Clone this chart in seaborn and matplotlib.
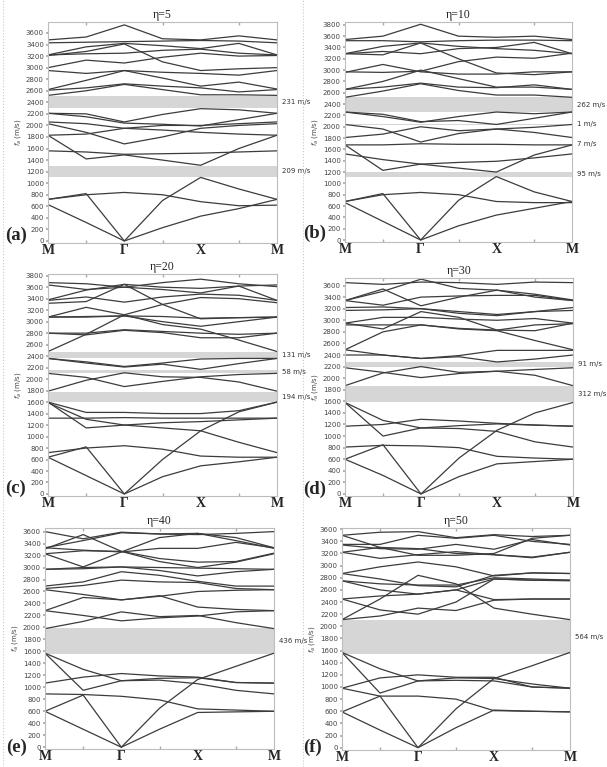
import numpy as np
import pandas as pd
import seaborn as sns
import matplotlib
matplotlib.use('Agg')
import matplotlib.pyplot as plt
import matplotlib.transforms as mtransforms

# high-symmetry path, sampled at M, mid, Gamma, mid, X, mid, M
k = [0, 0.5, 1, 1.5, 2, 2.5, 3]
k_labels = ['M', 'Γ', 'X', 'M']

etas = ['η=5', 'η=10', 'η=20', 'η=30', 'η=40', 'η=50']
letters = ['(a)', '(b)', '(c)', '(d)', '(e)', '(f)']

bands_a = [
    [630, 320, 0, 230, 430, 560, 720],
    [720, 820, 0, 700, 1100, 900, 720],
    [720, 800, 840, 800, 680, 610, 620],
    [1560, 1540, 1500, 1510, 1520, 1540, 1560],
    [1830, 1420, 1490, 1400, 1310, 1600, 1830],
    [1830, 1850, 1950, 1920, 1880, 1850, 1830],
    [2030, 1880, 1680, 1800, 1950, 2000, 2030],
    [2060, 2030, 1950, 2000, 2000, 2030, 2060],
    [2210, 2150, 2040, 2020, 1990, 2100, 2210],
    [2210, 2200, 2060, 2190, 2290, 2270, 2210],
    [2520, 2600, 2710, 2620, 2530, 2530, 2520],
    [2610, 2650, 2720, 2680, 2650, 2580, 2620],
    [2620, 2780, 2950, 2820, 2680, 2750, 2630],
    [2950, 2900, 2950, 2920, 2900, 2870, 2950],
    [3000, 3130, 3080, 3180, 3250, 3200, 3210],
    [3210, 3280, 3410, 3100, 2950, 2980, 3000],
    [3220, 3240, 3250, 3300, 3320, 3250, 3220],
    [3220, 3360, 3420, 3380, 3330, 3420, 3220],
    [3430, 3440, 3450, 3460, 3470, 3460, 3430],
    [3480, 3530, 3740, 3500, 3480, 3550, 3480],
]
bands_b = [
    [660, 330, 0, 250, 440, 560, 680],
    [680, 820, 0, 700, 1120, 850, 680],
    [680, 800, 840, 800, 680, 660, 660],
    [1520, 1420, 1340, 1370, 1390, 1450, 1520],
    [1680, 1230, 1340, 1270, 1200, 1500, 1680],
    [1680, 1680, 1700, 1690, 1690, 1680, 1680],
    [1810, 1870, 2000, 1930, 1960, 1900, 1810],
    [2040, 1960, 1730, 1880, 1960, 1990, 2040],
    [2260, 2180, 2080, 2180, 2260, 2230, 2260],
    [2260, 2220, 2090, 2110, 2040, 2150, 2260],
    [2520, 2630, 2760, 2640, 2560, 2560, 2520],
    [2660, 2700, 2770, 2700, 2690, 2740, 2660],
    [2660, 2800, 3000, 2850, 2700, 2700, 2660],
    [2970, 2960, 2980, 3150, 3230, 3210, 3300],
    [2960, 3100, 2970, 2930, 2930, 2970, 2970],
    [3290, 3420, 3480, 3200, 2950, 2920, 2970],
    [3290, 3330, 3290, 3380, 3400, 3490, 3290],
    [3290, 3270, 3480, 3420, 3380, 3350, 3290],
    [3520, 3520, 3500, 3520, 3530, 3530, 3520],
    [3540, 3600, 3810, 3600, 3580, 3600, 3540],
]
bands_c = [
    [640, 320, 0, 300, 490, 560, 640],
    [640, 820, 0, 600, 1100, 1430, 1600],
    [720, 800, 840, 780, 660, 640, 640],
    [1600, 1150, 1200, 1150, 1100, 900, 720],
    [1600, 1420, 1420, 1400, 1400, 1450, 1600],
    [1320, 1320, 1330, 1320, 1320, 1320, 1320],
    [1590, 1300, 1200, 1240, 1260, 1290, 1320],
    [1790, 1980, 2110, 2040, 2030, 1950, 1790],
    [2100, 2030, 1870, 1960, 2040, 2080, 2100],
    [2360, 2300, 2220, 2280, 2350, 2360, 2360],
    [2360, 2280, 2210, 2260, 2170, 2270, 2360],
    [2480, 2780, 3120, 3300, 3420, 3400, 3330],
    [2800, 2770, 2850, 2810, 2720, 2720, 2800],
    [2800, 2800, 2860, 2830, 2800, 2780, 2800],
    [3080, 3250, 3120, 2950, 2870, 2680, 2480],
    [3080, 3090, 3100, 3000, 2920, 3000, 3080],
    [3080, 3080, 3100, 3090, 3060, 3070, 3080],
    [3370, 3430, 3340, 3430, 3480, 3460, 3370],
    [3320, 3350, 3650, 3300, 3050, 3070, 3080],
    [3380, 3550, 3650, 3600, 3580, 3620, 3370],
    [3640, 3560, 3600, 3560, 3500, 3620, 3640],
    [3680, 3660, 3600, 3680, 3740, 3660, 3610],
]
bands_d = [
    [600, 320, 0, 300, 520, 560, 600],
    [600, 850, 0, 620, 1100, 1400, 1580],
    [810, 840, 830, 800, 650, 620, 600],
    [1580, 1000, 1140, 1130, 1080, 900, 810],
    [1580, 1270, 1140, 1180, 1210, 1190, 1170],
    [1170, 1200, 1290, 1260, 1220, 1190, 1170],
    [1870, 2090, 2200, 2100, 2120, 2050, 1870],
    [2180, 2100, 2010, 2080, 2120, 2150, 2180],
    [2400, 2400, 2340, 2390, 2480, 2480, 2480],
    [2490, 2400, 2340, 2370, 2280, 2330, 2400],
    [2490, 2800, 2920, 2850, 2820, 2650, 2490],
    [2920, 2920, 2920, 2860, 2830, 2920, 2940],
    [2950, 2850, 3150, 3050, 2830, 2820, 2950],
    [2950, 3050, 3050, 3020, 3000, 3030, 2950],
    [3170, 3180, 3200, 3150, 3100, 3150, 3170],
    [3220, 3230, 3200, 3120, 3080, 3150, 3220],
    [3340, 3540, 3250, 3400, 3520, 3400, 3340],
    [3340, 3260, 3400, 3420, 3430, 3430, 3340],
    [3340, 3500, 3710, 3550, 3520, 3450, 3350],
    [3650, 3620, 3660, 3650, 3620, 3660, 3650],
]
bands_e = [
    [600, 300, 0, 300, 580, 590, 600],
    [600, 870, 0, 650, 1130, 1350, 1570],
    [890, 880, 850, 790, 640, 620, 600],
    [1570, 950, 1110, 1120, 1060, 950, 890],
    [1570, 1300, 1110, 1150, 1160, 1080, 1070],
    [1070, 1170, 1230, 1190, 1170, 1080, 1070],
    [1980, 2100, 2260, 2180, 2200, 2080, 1980],
    [2280, 2200, 2110, 2160, 2190, 2260, 2280],
    [2280, 2500, 2460, 2530, 2340, 2300, 2280],
    [2630, 2550, 2460, 2520, 2600, 2620, 2630],
    [2650, 2700, 2790, 2760, 2750, 2650, 2630],
    [2690, 2760, 2930, 2870, 2770, 2690, 2690],
    [2970, 2980, 3010, 2950, 2860, 2930, 2970],
    [2970, 3000, 3010, 3000, 2990, 2980, 2970],
    [3230, 3010, 3260, 3500, 3570, 3450, 3320],
    [3230, 3280, 3270, 3150, 3090, 3100, 3240],
    [3310, 3550, 3270, 3100, 3000, 3090, 3230],
    [3330, 3290, 3260, 3320, 3320, 3420, 3330],
    [3330, 3450, 3580, 3560, 3570, 3500, 3330],
    [3600, 3480, 3590, 3560, 3550, 3570, 3600],
]
bands_f = [
    [590, 290, 0, 330, 620, 600, 590],
    [590, 850, 0, 640, 1140, 1350, 1570],
    [980, 850, 850, 800, 610, 600, 590],
    [1570, 900, 1100, 1110, 1100, 1000, 980],
    [1570, 1300, 1100, 1150, 1140, 1050, 980],
    [980, 1150, 1200, 1160, 1160, 1000, 980],
    [2110, 2450, 2840, 2700, 2300, 2200, 2110],
    [2110, 2170, 2300, 2260, 2430, 2450, 2450],
    [2450, 2270, 2200, 2400, 2780, 2760, 2760],
    [2450, 2500, 2530, 2600, 2440, 2450, 2450],
    [2750, 2600, 2530, 2600, 2780, 2760, 2750],
    [2750, 2700, 2680, 2680, 2800, 2780, 2760],
    [2870, 2980, 3060, 2980, 2830, 2880, 2870],
    [2870, 2780, 2670, 2650, 2840, 2880, 2870],
    [3220, 3120, 3180, 3230, 3180, 3130, 3220],
    [3220, 3300, 3280, 3200, 3180, 3140, 3220],
    [3340, 3280, 3270, 3350, 3270, 3430, 3340],
    [3350, 3350, 3500, 3450, 3500, 3400, 3350],
    [3500, 3300, 3170, 3170, 3200, 3450, 3500],
    [3500, 3550, 3560, 3460, 3510, 3480, 3500],
]

# band gaps: (lower edge, upper edge, label)
gaps_a = [(2300, 2505, '231 m/s'), (1115, 1290, '209 m/s')]
gaps_b = [(2260, 2520, '262 m/s'), (2035, 2045, '1 m/s'), (1688, 1698, '7 m/s'), (1110, 1205, '95 m/s')]
gaps_c = [(2370, 2475, '131 m/s'), (2110, 2150, '58 m/s'), (1600, 1775, '194 m/s')]
gaps_d = [(2195, 2285, '91 m/s'), (1590, 1870, '312 m/s')]
gaps_e = [(1560, 1985, '436 m/s')]
gaps_f = [(1550, 2110, '564 m/s')]

all_bands = [bands_a, bands_b, bands_c, bands_d, bands_e, bands_f]
all_gaps = [gaps_a, gaps_b, gaps_c, gaps_d, gaps_e, gaps_f]
y_max_tick = [3600, 3800, 3800, 3600, 3600, 3600]

sns.set_theme(style='white')
plt.rcParams['font.family'] = ['DejaVu Sans']
serif = ['Liberation Serif', 'DejaVu Serif']

W, H = 607, 767
fig = plt.figure(figsize=(W / 100, H / 100), dpi=100)

# axes boxes in pixels: left, right, top, bottom, ylim top
boxes = [
    (48, 277, 22, 242.7, 3790),
    (345, 572, 22, 241.7, 3850),
    (48, 277, 274, 495.7, 3830),
    (345, 573, 278, 495.7, 3730),
    (45, 274, 528, 749, 3660),
    (342, 570, 528, 749.5, 3620),
]
letter_pos = [(5, 240), (303, 238), (5, 493), (303, 494), (6, 752), (303, 752)]

for x in (3, 303):
    fig.add_artist(plt.Line2D([x / W, x / W], [0, 1], color='#c8c8c8', lw=0.8, ls=':'))

for i in range(6):
    l, r, t, b, ytop = boxes[i]
    ax = fig.add_axes([l / W, 1 - b / H, (r - l) / W, (b - t) / H])
    rows = [(k[j], f, n) for n, band in enumerate(all_bands[i]) for j, f in enumerate(band)]
    df = pd.DataFrame(rows, columns=['k', 'f', 'band'])

    tr = mtransforms.blended_transform_factory(ax.transAxes, ax.transData)
    for lo, hi, lab in all_gaps[i]:
        ax.axhspan(lo, hi, color='#d6d6d6', lw=0, zorder=0)
        ax.text(1.02, (lo + hi) / 2, lab, transform=tr, fontsize=5, color='#333333',
                va='center', ha='left')

    sns.lineplot(data=df, x='k', y='f', units='band', estimator=None, color='#3c3c3c',
                 lw=0.9, ax=ax, legend=False)

    ax.set_xlim(0, 3)
    ax.set_ylim(-30, ytop)
    ax.set_xticks([0, 1, 2, 3])
    ax.set_xticklabels(k_labels, fontfamily=serif, fontweight='bold', fontsize=10)
    ax.set_xticks([0.5, 1.5, 2.5], minor=True)
    ax.set_yticks(np.arange(0, y_max_tick[i] + 1, 200))
    ax.tick_params(axis='y', labelsize=5, labelcolor='#444444', length=1.5, pad=1.5,
                   color='#aaaaaa', left=True)
    ax.tick_params(axis='x', which='major', length=0, pad=1)
    ax.tick_params(axis='x', which='minor', length=2, direction='in', color='#aaaaaa',
                   top=True, bottom=True)
    ax.set_xlabel('')
    ax.set_ylabel('$f_a$ (m/s)', fontsize=5, color='#444444', labelpad=2)
    for s in ax.spines.values():
        s.set_color('#bdbdbd')
        s.set_linewidth(0.8)
    ax.set_title(etas[i], fontfamily=serif, fontsize=8.5, pad=3)
    lx, ly = letter_pos[i]
    fig.text(lx / W, 1 - ly / H, letters[i], fontfamily=serif, fontweight='bold',
             fontsize=13.5, ha='left', va='baseline')

fig.savefig('out.png', dpi=100, facecolor='white')
